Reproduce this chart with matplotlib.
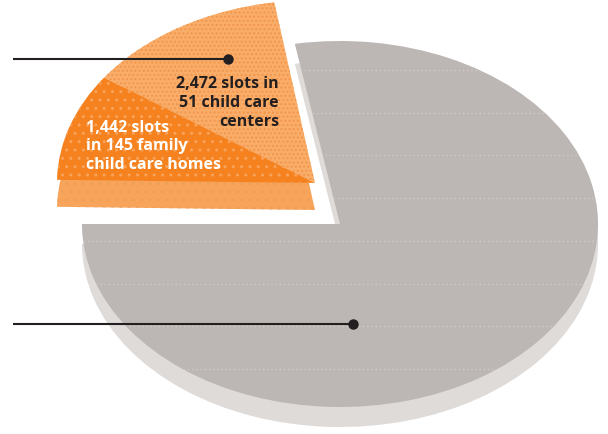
import numpy as np
import matplotlib.pyplot as plt
from matplotlib.patches import Wedge
from matplotlib.transforms import Affine2D

# share of the pie (percent) as drawn
categories = ["Family child care homes", "Child care centers", "Other"]
share = [9.5, 12.7, 77.8]
labels = [
    ["1,442 slots", "in 145 family", "child care homes"],
    ["2,472 slots in", "51 child care", "centers"],
]

top_colors = ["#f5821f", "#f9ad69", "#bcb6b4"]
side_colors = ["#f8a45b", "#f8a45b", "#dfdbd9"]
dot_colors = ["#f9a35a", "#f2964c", "#eea058"]
ink = "#231f20"

W, H = 608, 434
fig = plt.figure(figsize=(W / 100, H / 100), dpi=100)
ax = fig.add_axes([0, 0, 1, 1])
ax.set_xlim(0, W)
ax.set_ylim(H, 0)
ax.axis("off")

RX, RY = 258, 183
CX, CY = 340, 224
OX, OY = 315, 183          # apex of the pulled-out slice
GRAY_DEPTH, ORANGE_DEPTH = 20, 27


def ell(cx, cy):
    return Affine2D().scale(RX, -RY).translate(cx, cy) + ax.transData


angles = np.array(share) / sum(share) * 360
end = 179
theta_dark = (end - angles[0], end)
theta_light = (end - angles[0] - angles[1], end - angles[0])
theta_gray = (180, 180 + angles[2])

# gray part with its side
ax.add_patch(Wedge((0, 0), 1, *theta_gray, transform=ell(CX, CY + GRAY_DEPTH),
                   facecolor=side_colors[2], lw=0))
gray = Wedge((0, 0), 1, *theta_gray, transform=ell(CX, CY),
             facecolor=top_colors[2], lw=0)
ax.add_patch(gray)
ys = np.arange(70, 400, 42.7)
hl = ax.hlines(ys, 0, W, colors="#cfcac8", linestyles=(0, (1, 2)), lw=1)
hl.set_clip_path(gray)

# orange slice: side first, then the two top faces
ax.add_patch(Wedge((0, 0), 1, theta_light[0], theta_dark[1],
                   transform=ell(OX, OY + ORANGE_DEPTH),
                   facecolor=side_colors[0], edgecolor=dot_colors[2],
                   hatch="..", lw=0))
ax.add_patch(Wedge((0, 0), 1, *theta_dark, transform=ell(OX, OY),
                   facecolor=top_colors[0], edgecolor=dot_colors[0],
                   hatch="..", lw=0))
ax.add_patch(Wedge((0, 0), 1, *theta_light, transform=ell(OX, OY),
                   facecolor=top_colors[1], edgecolor=dot_colors[1],
                   hatch="....", lw=0))

# pointer lines
ax.plot([13, 228], [59, 59], color=ink, lw=1.5, solid_capstyle="butt")
ax.plot([228], [59], "o", color=ink, ms=6.5)
ax.plot([13, 353], [324, 324], color=ink, lw=1.5, solid_capstyle="butt")
ax.plot([353], [324], "o", color=ink, ms=6.5)

font = dict(family=["Open Sans", "DejaVu Sans"], fontweight="bold", fontsize=11.5)
for i, line in enumerate(labels[1]):
    ax.text(279, 84 + i * 19, line, ha="right", va="center", color=ink, **font)
for i, line in enumerate(labels[0]):
    ax.text(86, 128 + i * 18.5, line, ha="left", va="center", color="white", **font)

fig.savefig("out.png", dpi=100)
